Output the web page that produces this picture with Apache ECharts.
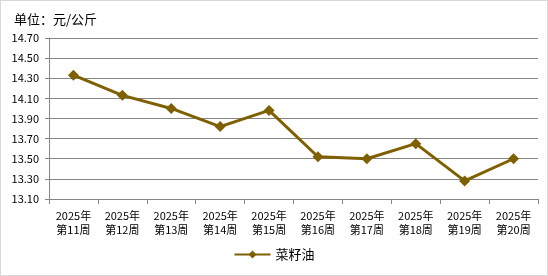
<!DOCTYPE html>
<html><head><meta charset="utf-8">
<script src="https://cdn.jsdelivr.net/npm/echarts@6/dist/echarts.min.js"></script>
<style>html,body{margin:0;padding:0;background:#fff}#c{position:absolute;left:0;top:0;width:546px;height:274px;border:1px solid #d9d9d9}</style>
</head><body><div id="c"></div>
<script>
const categories = ['2025年\n第11周','2025年\n第12周','2025年\n第13周','2025年\n第14周','2025年\n第15周','2025年\n第16周','2025年\n第17周','2025年\n第18周','2025年\n第19周','2025年\n第20周'];
const seriesName = '菜籽油';
const values = [14.33, 14.13, 14.00, 13.82, 13.98, 13.52, 13.50, 13.65, 13.28, 13.50];
const unitText = '单位：元/公斤';
const yMin = 13.10, yMax = 14.70, yStep = 0.20;

const chart = echarts.init(document.getElementById('c'), null, {renderer:'canvas'});
const font = '"Noto Sans CJK SC", "SimSun", sans-serif';
chart.setOption({
  animation:false,
  title:{text:unitText,left:8,top:7,textStyle:{fontSize:13,fontWeight:'normal',color:'#000',fontFamily:font}},
  grid:{left:48,right:9,top:37,bottom:76,containLabel:false},
  legend:{bottom:9,left:'center',itemWidth:36,itemHeight:10,textStyle:{fontSize:13,color:'#000',fontFamily:font},data:[seriesName]},
  xAxis:{type:'category',data:categories,boundaryGap:true,
    axisLine:{show:true,lineStyle:{color:'#868686',width:1}},
    axisTick:{show:true,length:5,alignWithLabel:false,lineStyle:{color:'#868686'}},
    axisLabel:{fontSize:11,color:'#000',fontFamily:font,margin:10,lineHeight:14,interval:0}},
  yAxis:{type:'value',min:yMin,max:yMax,interval:yStep,
    axisLine:{show:true,lineStyle:{color:'#868686',width:1}},
    axisTick:{show:true,length:4,inside:false,lineStyle:{color:'#868686'}},
    splitLine:{show:true,lineStyle:{color:'#868686',width:1}},
    axisLabel:{fontSize:11,color:'#000',fontFamily:font,margin:10,formatter:v=>v.toFixed(2)}},
  series:[{name:seriesName,type:'line',data:values,symbol:'diamond',symbolSize:11,
    lineStyle:{color:'#7f6000',width:3},itemStyle:{color:'#7f6000'}}]
});
</script></body></html>
